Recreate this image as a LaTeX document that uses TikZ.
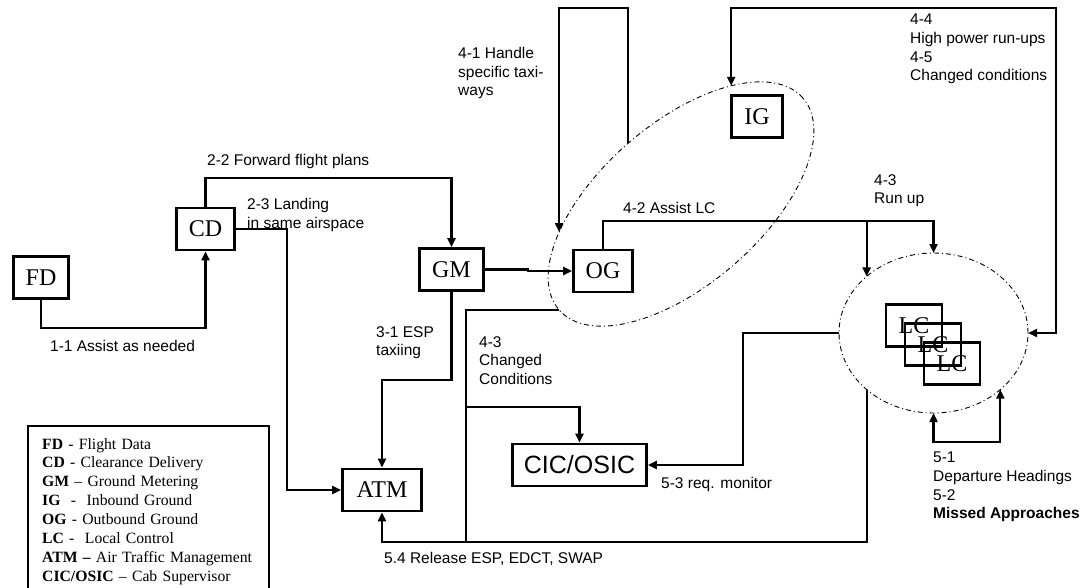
\documentclass[tikz,border=0pt]{standalone}
\usepackage{fontspec}
\setmainfont{Liberation Serif}
\newfontfamily\arialf{Liberation Sans}
\usetikzlibrary{arrows.meta, shapes.geometric}

\begin{document}
\begin{tikzpicture}[
    x=1pt, y=-1pt,
    box/.style={draw, line width=2.6pt, inner sep=0pt,
                minimum height=42pt, font=\fontsize{24}{28}\selectfont},
    lcbox/.style={box, minimum width=56pt},
    zone/.style={draw, ellipse, line width=0.9pt, inner sep=0pt, outer sep=0pt,
                 dash pattern=on 5pt off 3pt on 1pt off 3pt},
    lbl/.style={inner sep=0pt, align=left,
                font=\arialf\fontsize{15.5}{18.7}\selectfont},
    conn/.style={line width=2.2pt},
    arr/.style={conn, -{Triangle[length=9pt, width=8pt]}},
    dbl/.style={conn, {Triangle[length=9pt, width=8pt]}-{Triangle[length=9pt, width=8pt]}},
]
\useasboundingbox (0,0) rectangle (1083,588);
\clip (0,0) rectangle (1083,588);

% Positions
\node[box, minimum width=55pt] (fd) at (41,277.5) {FD};
\node[box, minimum width=58pt] (cd) at (205.5,229) {CD};
\node[box, minimum width=64pt] (gm) at (451.5,269.5) {GM};
\node[box, minimum width=59pt] (og) at (603,271) {OG};
\node[box, minimum width=51pt] (ig) at (757,116.5) {IG};
\node[box, minimum width=79pt] (atm) at (382,490) {ATM};
\node[box, minimum width=134pt, font=\arialf\fontsize{25}{30}\selectfont]
    (cic) at (579.5,465) {CIC/OSIC};
\node[lcbox] (lca) at (914,325.5) {LC};
\node[lcbox] (lcb) at ([shift={(19,19)}]lca) {LC};
\node[lcbox] (lcc) at ([shift={(19,19)}]lcb) {LC};

% Ground and local zones
\node[zone, minimum width=323pt, minimum height=161pt, rotate=41] (ogzone) at (681,204) {};
\node[zone, minimum width=189pt, minimum height=160pt] (lczone) at (933.5,333) {};
\coordinate (rail) at (1056,8);
\coordinate (cc) at (466,407);
\coordinate (bus) at (466,542);

% Connectors
\draw[arr] (fd.south) -- ++(0,28) -| (cd.south);
\draw[arr] (cd.north) -- ++(0,-29) -| (gm.north);
\draw[arr] (cd.east) -- ++(51,0) |- (atm.west);
\draw[arr] (gm.east) -- ++(43,0) |- (og.west);
\draw[arr] (gm.south) -- ++(0,88) -| (atm.north);
\draw[arr] (ogzone.north) -- (ogzone.north |- rail) -| (ogzone.152);
\draw[dbl] (ogzone.26) -- (ogzone.26 |- rail) -- (rail) |- (lczone.east);
\draw[arr] (og.north) -- ++(0,-28) coordinate (assist) -| (lczone.north);
\draw[arr] (assist -| lczone.north west) -- (lczone.north west);
\draw[arr] (ogzone.west) -| (cc) -| (cic.north);
\draw[conn] (cc) -- (bus);
\draw[arr] (lczone.south west) |- (bus) -| (atm.south);
\draw[arr] (lczone.west) -- ++(-96,0) |- (cic.east);
\draw[dbl] (lczone.south) -- ++(0,29) -| (lczone.south east);

% Labels
\node[lbl, anchor=base west] (l11) at (50,351) {1-1 Assist as needed};
\node[lbl, anchor=base west] (l22) at (207,165) {2-2 Forward flight plans};
\node[lbl, anchor=north west] (l23) at (247,198) {2-3 Landing\\in same airspace};
\node[lbl, anchor=north west] (l31) at (376,326) {3-1 ESP\\taxiing};
\node[lbl, anchor=north west] (l41) at (458,47) {4-1 Handle\\specific taxi-\\ways};
\node[lbl, anchor=base west] (l42) at (623,213) {4-2 Assist LC};
\node[lbl, anchor=north west] (l43r) at (874,174) {4-3\\Run up};
\node[lbl, anchor=north west] (l44) at (910,14) {4-4\\High power run-ups\\4-5\\Changed conditions};
\node[lbl, anchor=north west] (l43c) at (479,336) {4-3\\Changed\\Conditions};
\node[lbl, anchor=base west] (l53) at (661,488) {5-3 req. monitor};
\node[lbl, anchor=base west] (l54) at (384,563) {5.4 Release ESP, EDCT, SWAP};
\node[lbl, anchor=north west] (l51) at (933,452)
    {5-1\\Departure Headings\\5-2\\\textbf{Missed Approaches}};

% Legend
\node[draw, line width=2.4pt, anchor=north west, text width=213pt,
      inner xsep=14pt, inner ysep=12pt, align=left,
      font=\fontsize{15.7}{18.9}\selectfont] (legend) at (27,425)
    {\textbf{FD} - Flight Data\\
     \textbf{CD} - Clearance Delivery\\
     \textbf{GM} – Ground Metering\\
     \textbf{IG}\ \ -\ \ Inbound Ground\\
     \textbf{OG} - Outbound Ground\\
     \textbf{LC} -\ \ Local Control\\
     \textbf{ATM –} Air Traffic Management\\
     \textbf{CIC/OSIC} – Cab Supervisor};
\end{tikzpicture}
\end{document}
